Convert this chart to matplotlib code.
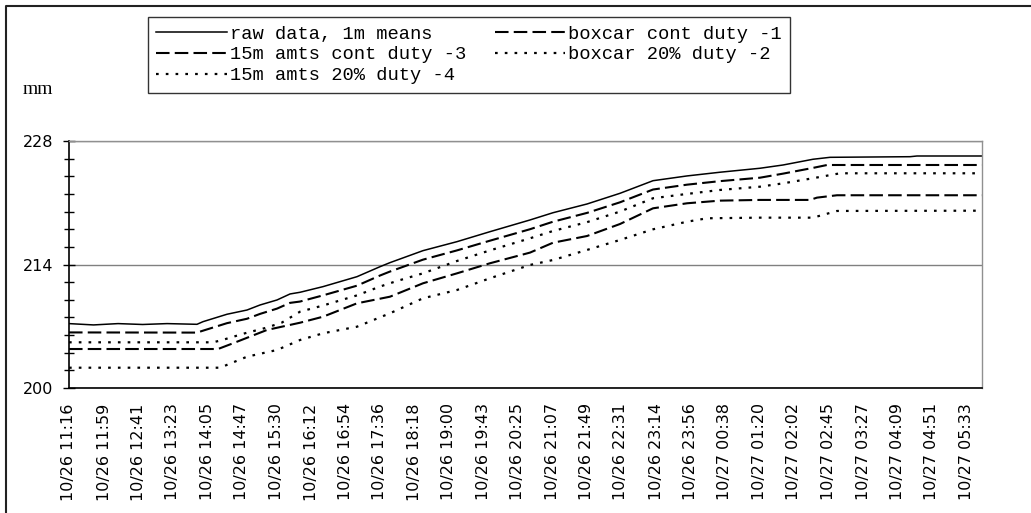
import matplotlib
matplotlib.use('Agg')
import matplotlib.pyplot as plt
from matplotlib.ticker import MultipleLocator, FixedLocator
from matplotlib.lines import Line2D

#%% data (x = minutes after 10/26 11:16, y = mm)
tick_labels = ['10/26 11:16', '10/26 11:59', '10/26 12:41', '10/26 13:23', '10/26 14:05',
               '10/26 14:47', '10/26 15:30', '10/26 16:12', '10/26 16:54', '10/26 17:36',
               '10/26 18:18', '10/26 19:00', '10/26 19:43', '10/26 20:25', '10/26 21:07',
               '10/26 21:49', '10/26 22:31', '10/26 23:14', '10/26 23:56', '10/27 00:38',
               '10/27 01:20', '10/27 02:02', '10/27 02:45', '10/27 03:27', '10/27 04:09',
               '10/27 04:51', '10/27 05:33']

raw_min = [0, 30, 60, 90, 120, 156.5, 163.9, 193.2, 217.7, 233.6, 254.4, 270.3, 282.5, 310.6,
           352.2, 380.3, 392.5, 432.9, 474.5, 514.8, 563.8, 591.9, 633.5, 673.8, 714.2, 755.8,
           796.1, 845.0, 873.2, 909.8, 930.6, 1028.5, 1037.0, 1116.5]
raw_mm = [207.3, 207.15, 207.3, 207.2, 207.3, 207.22, 207.52, 208.36, 208.84, 209.41, 209.98,
          210.66, 210.85, 211.49, 212.62, 213.75, 214.21, 215.57, 216.59, 217.72, 219.05, 219.87,
          220.86, 222.07, 223.50, 224.04, 224.46, 224.91, 225.28, 225.93, 226.15, 226.22, 226.30,
          226.30]

box_cont_min = [0, 156.5, 163.9, 193.2, 217.7, 233.6, 254.4, 270.3, 282.5, 310.6, 352.2, 380.3,
                392.5, 432.9, 474.5, 514.8, 563.8, 591.9, 633.5, 673.8, 714.2, 755.8, 796.1,
                845.0, 873.2, 909.8, 927.0, 1116.5]
box_cont_mm = [206.3, 206.28, 206.5, 207.35, 207.85, 208.4, 209.0, 209.65, 209.8, 210.5, 211.6,
               212.75, 213.2, 214.55, 215.6, 216.7, 218.0, 218.85, 219.85, 221.05, 222.5, 223.05,
               223.45, 223.84, 224.3, 224.95, 225.28, 225.28]

box_20_min = [0, 176, 186, 215, 240, 260, 282.5, 310.6, 352.2, 380.3, 400, 432.9, 474.5, 514.8,
              563.8, 591.9, 633.5, 673.8, 714.2, 755.8, 796.1, 845.0, 873.2, 909.8, 942.9, 1116.5]
box_20_mm = [205.18, 205.18, 205.4, 206.2, 206.8, 207.4, 208.65, 209.35, 210.5, 211.5, 212.1,
             213.0, 214.4, 215.6, 216.97, 217.8, 218.8, 220.0, 221.51, 222.0, 222.45, 222.82,
             223.2, 223.78, 224.34, 224.34]

amts_cont_min = [0, 182.2, 200.6, 242.1, 282.5, 310.6, 352.2, 392.5, 432.9, 474.5, 514.8, 563.8,
                 591.9, 633.5, 673.8, 714.2, 755.8, 796.1, 845.0, 906.2, 914.7, 939.2, 1116.5]
amts_cont_mm = [204.42, 204.42, 205.07, 206.58, 207.40, 208.08, 209.60, 210.35, 211.87, 213.00,
                214.14, 215.35, 216.47, 217.23, 218.59, 220.37, 220.94, 221.24, 221.32, 221.32,
                221.58, 221.85, 221.85]

amts_20_min = [0, 184.7, 217.7, 254.4, 282.5, 310.6, 352.2, 392.5, 432.9, 474.5, 514.8, 563.8,
               591.9, 633.5, 673.8, 714.2, 755.8, 780.2, 845.0, 909.8, 939.2, 1116.5]
amts_20_mm = [202.30, 202.30, 203.55, 204.31, 205.44, 206.20, 206.95, 208.47, 210.17, 211.11,
              212.44, 213.95, 214.51, 215.65, 216.78, 217.99, 218.85, 219.24, 219.31, 219.31,
              220.07, 220.10]

labels = ['raw data, 1m means', '15m amts cont duty -3', '15m amts 20% duty -4',
          'boxcar cont duty -1', 'boxcar 20% duty -2']


def minutes(lbl):
    day, hm = lbl.split(' ')
    h, m = hm.split(':')
    d = int(day.split('/')[1]) - 26
    return d * 1440 + int(h) * 60 + int(m) - (11 * 60 + 16)


tick_pos = [minutes(t) for t in tick_labels]

#%% figure
W, H = 1031, 513
fig = plt.figure(figsize=(W / 100, H / 100), dpi=100)
ax = fig.add_axes([69 / W, 1 - 388 / H, (982 - 69) / W, (388 - 141) / H])

dash = (0, (6.5, 2.5))
dots = (0, (1.2, 3.2))
l_raw, = ax.plot(raw_min, raw_mm, color='black', lw=1.1, ls='-')
l_bc, = ax.plot(box_cont_min, box_cont_mm, color='black', lw=1.5, ls=dash)
l_b20, = ax.plot(box_20_min, box_20_mm, color='black', lw=1.6, ls=dots)
l_ac, = ax.plot(amts_cont_min, amts_cont_mm, color='black', lw=1.5, ls=dash)
l_a20, = ax.plot(amts_20_min, amts_20_mm, color='black', lw=1.6, ls=dots)

ax.set_xlim(0, 1116.5)
ax.set_ylim(200, 228)
ax.yaxis.set_major_locator(FixedLocator([200, 214, 228]))
ax.yaxis.set_minor_locator(MultipleLocator(2))
ax.xaxis.set_major_locator(FixedLocator(tick_pos))
ax.set_xticklabels(tick_labels, rotation=90, fontsize=11.5, family='DejaVu Sans')
ax.tick_params(axis='x', length=0, pad=11)
ax.tick_params(axis='y', which='major', direction='inout', length=8.6, width=1,
               labelsize=11.5, pad=7)
ax.tick_params(axis='y', which='minor', direction='inout', length=6.5, width=1)
for t in ax.get_yticklabels():
    t.set_family('DejaVu Sans')

ax.grid(axis='y', which='major', color='#808080', lw=1)
ax.set_axisbelow(True)
for s in ['top', 'right']:
    ax.spines[s].set_color('#909090')
    ax.spines[s].set_linewidth(1)
for s in ['left', 'bottom']:
    ax.spines[s].set_color('black')
    ax.spines[s].set_linewidth(1.2)

fig.text(23 / W, 1 - 89 / H, 'mm', family='Liberation Serif', fontsize=14, va='center')

leg = fig.legend([l_raw, l_ac, l_a20, l_bc, l_b20], labels, ncol=2, loc='upper left',
                 bbox_to_anchor=(148 / W, 1 - 17 / H),
                 prop={'family': 'Liberation Mono', 'size': 13.5},
                 handlelength=3.75, handletextpad=0.15, borderpad=0.45, borderaxespad=0,
                 labelspacing=0.2, columnspacing=1.55, fancybox=False, framealpha=1)
leg.get_frame().set_edgecolor('#333333')
leg.get_frame().set_linewidth(1)

# outer chart border (top and left edges visible)
fig.add_artist(Line2D([6 / W, 6 / W, 1], [0, 1 - 6 / H, 1 - 6 / H],
                      transform=fig.transFigure, color='#222222', lw=1.5))

fig.savefig('out.png', dpi=100)
